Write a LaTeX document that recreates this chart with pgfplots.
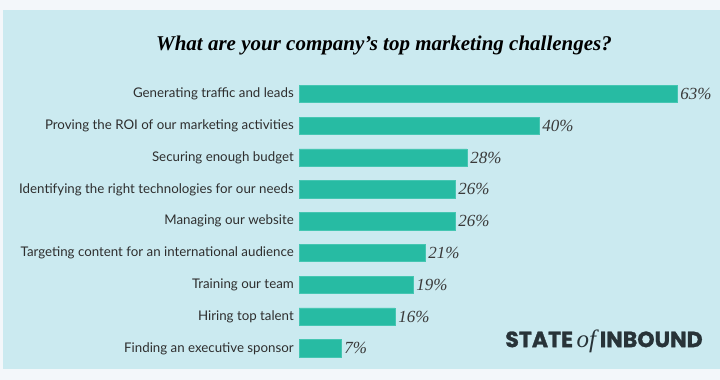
\documentclass[border=0pt]{standalone}
\usepackage{pgfplots}
\pgfplotsset{compat=1.18}
\usepackage{fontspec}
\setmainfont{Lato}
\newfontfamily\titlefont{Liberation Serif}
\newfontfamily\logofont{Poppins}[FakeBold=1.2]
\definecolor{outerbg}{HTML}{F3F7FA}
\definecolor{panel}{HTML}{CBEAF0}
\definecolor{barc}{HTML}{27BBA3}
\definecolor{baredge}{HTML}{45C6B2}
\definecolor{txt}{HTML}{2E2E2E}
\definecolor{valc}{HTML}{3A3A3A}
\definecolor{logoc}{HTML}{283338}
\begin{document}
\begin{tikzpicture}[x=1pt,y=1pt]
\useasboundingbox (0,0) rectangle (720,380);
\fill[outerbg] (0,0) rectangle (720,380);
\fill[panel] (3,11) rectangle (720,370);
\node[font=\titlefont\bfseries\itshape\fontsize{21}{24}\selectfont, text=black] at (384,335) {What are your company’s top marketing challenges?};
\node[text=logoc, anchor=center, inner sep=0pt] at (604,39) {\logofont\bfseries\fontsize{22}{24}\selectfont STATE\,{\titlefont\mdseries\itshape\fontsize{25}{26}\selectfont of}\,INBOUND};
\begin{axis}[at={(299pt,15.7pt)}, anchor=south west, scale only axis,
  width=420pt, height=286.2pt, xmin=0, xmax=70, ymin=-0.5, ymax=8.5,
  y dir=reverse, xbar, bar width=17.4pt, clip=false,
  axis line style={draw=none}, tick style={draw=none}, major tick length=0pt,
  xtick=\empty, ytick={0,...,8},
  yticklabels={Generating traffic and leads,Proving the ROI of our marketing activities,Securing enough budget,Identifying the right technologies for our needs,Managing our website,Targeting content for an international audience,Training our team,Hiring top talent,Finding an executive sponsor},
  yticklabel style={font=\fontsize{13.3}{15}\selectfont, text=txt, inner sep=0pt, xshift=-5pt},
  /pgf/number format/assume math mode=true,
  nodes near coords={\pgfmathprintnumber{\pgfplotspointmeta}\%},
  nodes near coords style={font=\titlefont\itshape\fontsize{17}{19}\selectfont, text=valc, anchor=west, inner sep=0pt, xshift=3pt},
  point meta=x]
\addplot[fill=barc, draw=baredge, line width=0.6pt] coordinates {(63,0) (40,1) (28,2) (26,3) (26,4) (21,5) (19,6) (16,7) (7,8)};
\end{axis}
\end{tikzpicture}
\end{document}
